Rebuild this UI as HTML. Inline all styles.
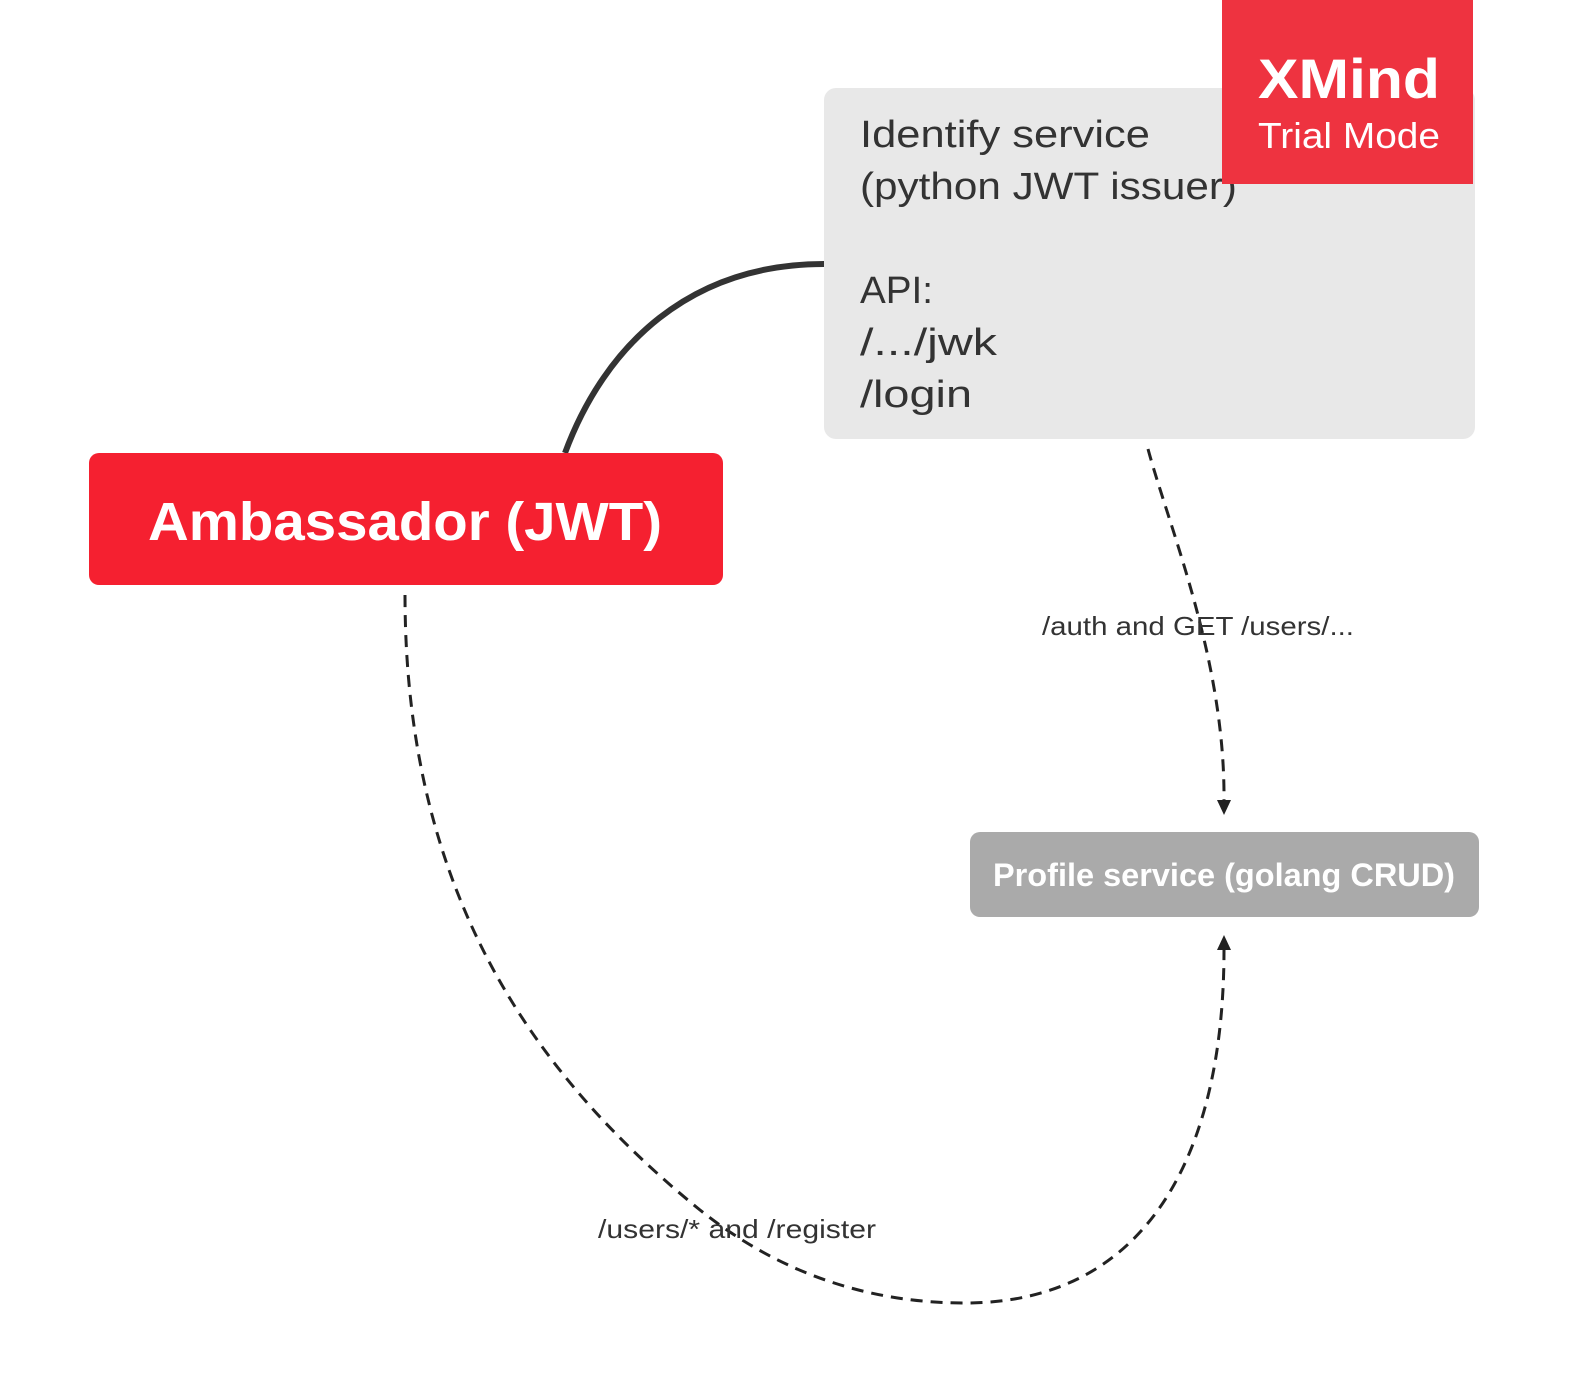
<!DOCTYPE html>
<html><head><meta charset="utf-8"><style>
html,body{margin:0;padding:0;background:#fff;}
svg{display:block;font-family:"Liberation Sans",sans-serif;}
</style></head><body>
<svg width="1569" height="1397" viewBox="0 0 1569 1397" xmlns="http://www.w3.org/2000/svg">
<rect x="824" y="88" width="651" height="351" rx="12" fill="#e8e8e8"/>
<g fill="#333" font-size="38">
<text x="860" y="147" textLength="290" lengthAdjust="spacingAndGlyphs">Identify service</text>
<text x="860" y="199" textLength="377" lengthAdjust="spacingAndGlyphs">(python JWT issuer)</text>
<text x="860" y="303" textLength="73" lengthAdjust="spacingAndGlyphs">API:</text>
<text x="860" y="355" textLength="137" lengthAdjust="spacingAndGlyphs">/.../jwk</text>
<text x="860" y="407" textLength="112" lengthAdjust="spacingAndGlyphs">/login</text>
</g>
<rect x="1222" y="0" width="251" height="184" fill="#ee3340"/>
<text x="1258" y="98" fill="#fff" font-size="56" font-weight="bold" textLength="182" lengthAdjust="spacingAndGlyphs">XMind</text>
<text x="1258" y="148" fill="#fff" font-size="36" textLength="182" lengthAdjust="spacingAndGlyphs">Trial Mode</text>
<path d="M824,264 C690,264 605,345 565,453" fill="none" stroke="#333" stroke-width="6"/>
<rect x="89" y="453" width="634" height="132" rx="10" fill="#f52030"/>
<text x="148" y="540" fill="#fff" font-size="54" font-weight="bold" textLength="514" lengthAdjust="spacingAndGlyphs">Ambassador (JWT)</text>
<path d="M1148,449 C1170,530 1225,660 1224,800" fill="none" stroke="#222" stroke-width="3" stroke-dasharray="12,8"/>
<polygon points="1217,800 1231,800 1224,815" fill="#222"/>
<text x="1042" y="635" fill="#333" font-size="26" textLength="312" lengthAdjust="spacingAndGlyphs">/auth and GET /users/...</text>
<rect x="970" y="832" width="509" height="85" rx="10" fill="#aaaaaa"/>
<text x="993" y="886" fill="#fff" font-size="32" font-weight="bold" textLength="462" lengthAdjust="spacingAndGlyphs">Profile service (golang CRUD)</text>
<path d="M405,595 C405,900 540,1080 700,1210 C800,1290 900,1303 965,1303 C1150,1303 1224,1150 1224,950" fill="none" stroke="#222" stroke-width="3" stroke-dasharray="12,8"/>
<polygon points="1217,950 1231,950 1224,935" fill="#222"/>
<text x="598" y="1238" fill="#333" font-size="26" textLength="278" lengthAdjust="spacingAndGlyphs">/users/* and /register</text>
</svg>
</body></html>
